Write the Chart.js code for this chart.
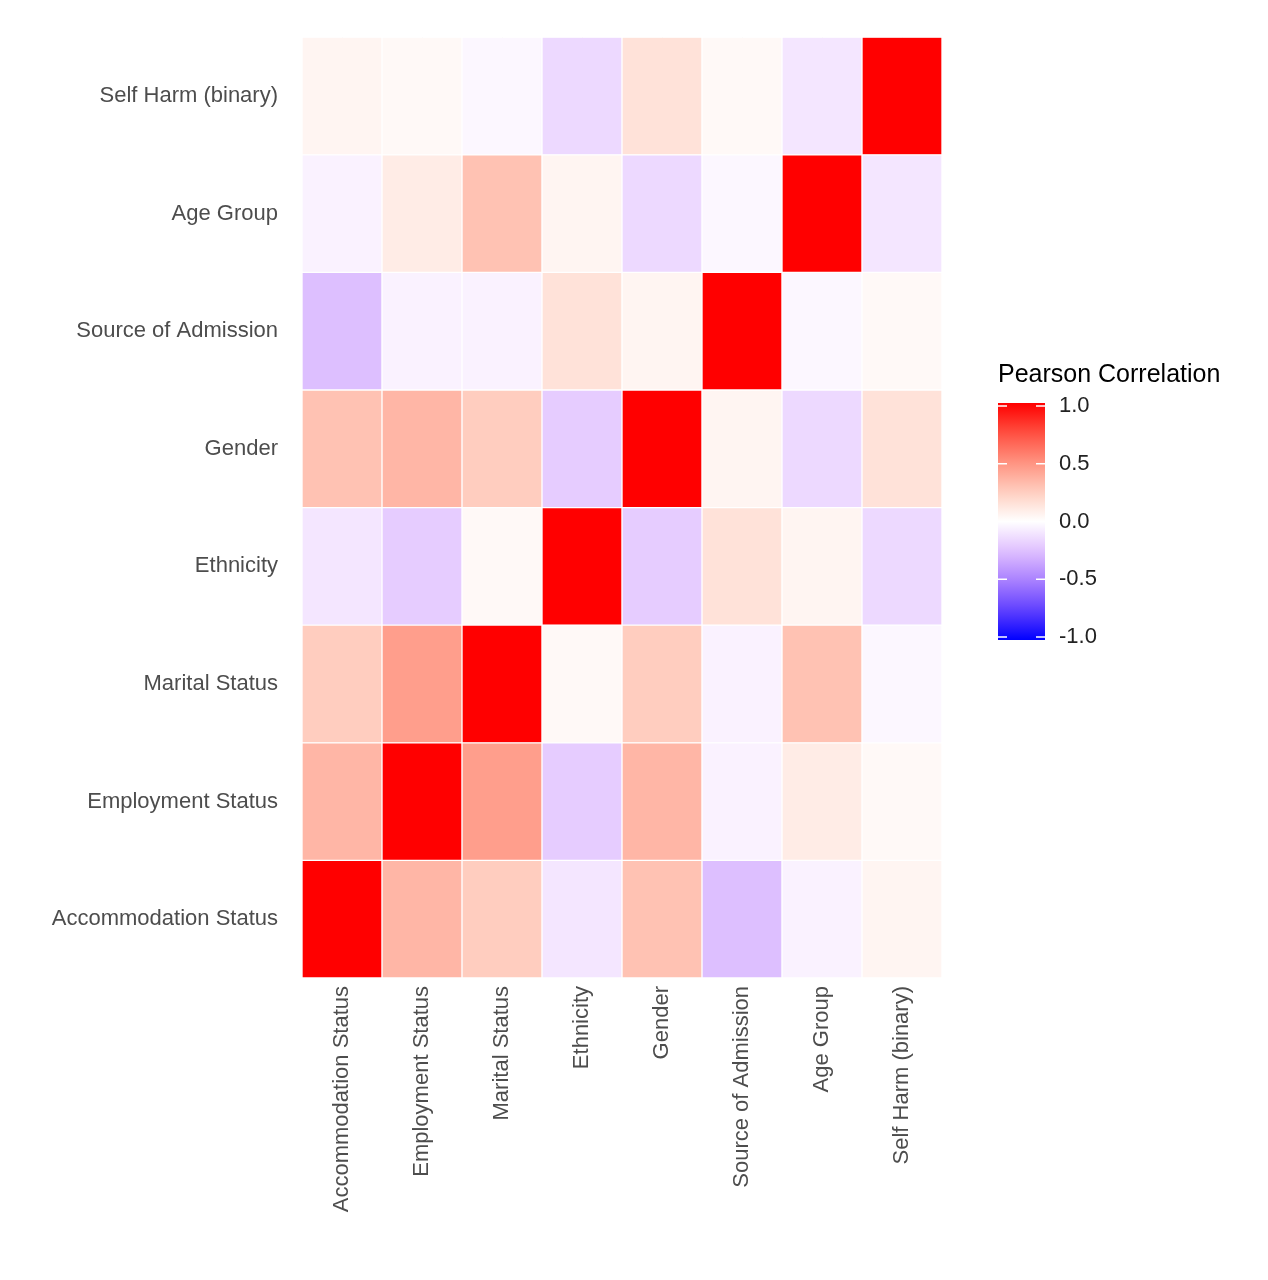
<!DOCTYPE html>
<html>
<head>
<meta charset="utf-8">
<script src="https://cdn.jsdelivr.net/npm/chart.js@4"></script>
<style>body{margin:0;background:#fff}</style>
</head>
<body>
<canvas id="c" width="1268" height="1280"></canvas>
<script>
const vars = ["Accommodation Status","Employment Status","Marital Status","Ethnicity","Gender","Source of Admission","Age Group","Self Harm (binary)"];
// correlation matrix, rows/cols in vars order
const corr = [
  [1.00, 0.35, 0.25,-0.10, 0.30,-0.25,-0.05, 0.05],
  [0.35, 1.00, 0.45,-0.20, 0.35,-0.05, 0.10, 0.03],
  [0.25, 0.45, 1.00, 0.03, 0.25,-0.05, 0.30,-0.03],
  [-0.10,-0.20, 0.03, 1.00,-0.20, 0.15, 0.05,-0.15],
  [0.30, 0.35, 0.25,-0.20, 1.00, 0.05,-0.15, 0.15],
  [-0.25,-0.05,-0.05, 0.15, 0.05, 1.00,-0.03, 0.03],
  [-0.05, 0.10, 0.30, 0.05,-0.15,-0.03, 1.00,-0.10],
  [0.05, 0.03,-0.03,-0.15, 0.15, 0.03,-0.10, 1.00]
];
const legendTicks = [1.0, 0.5, 0.0, -0.5, -1.0];

function colorFor(v){
  let r,g,b;
  if(v>=0){ r=255; g=Math.round(255*(1-v)); b=Math.round(255*(1-v)); g=Math.min(255,g+Math.round(18*v*(1-v)*4)); }
  else { const t=-v; r=Math.round(255*(1-t)); g=Math.round(255*(1-t)); b=255; r=Math.min(255,r+Math.round(40*t*(1-t)*4)); }
  return `rgb(${r},${g},${b})`;
}

// one stacked dataset per y variable (row), each cell height 1
const datasets = vars.map((yv, j) => ({
  label: yv,
  data: vars.map(() => 1),
  backgroundColor: vars.map((xv, i) => colorFor(corr[j][i])),
  borderColor: '#ffffff',
  borderWidth: 1,
  borderSkipped: false,
  barPercentage: 1,
  categoryPercentage: 1
}));

const legendPlugin = {
  id: 'colorbar',
  afterDraw(chart){
    const ctx = chart.ctx;
    const x = 998, w = 47, top = 403, bot = 640;
    ctx.save();
    ctx.fillStyle = '#000';
    ctx.font = '25px "Liberation Sans", Arial, sans-serif';
    ctx.textBaseline = 'alphabetic';
    ctx.fillText('Pearson Correlation', 998, 382);
    const grd = ctx.createLinearGradient(0, top, 0, bot);
    for(let k=0;k<=20;k++){ const v = 1 - k/10; grd.addColorStop(k/20, colorFor(v)); }
    ctx.fillStyle = grd;
    ctx.fillRect(x, top, w, bot-top);
    ctx.font = '22px "Liberation Sans", Arial, sans-serif';
    ctx.textBaseline = 'middle';
    legendTicks.forEach(v => {
      const y = top + (1 - v)/2*(bot-top-6) + 3;
      ctx.strokeStyle = '#fff'; ctx.lineWidth = 1.5;
      ctx.beginPath(); ctx.moveTo(x, y); ctx.lineTo(x+9, y); ctx.moveTo(x+w-9, y); ctx.lineTo(x+w, y); ctx.stroke();
      ctx.fillStyle = '#222';
      ctx.fillText(v.toFixed(1), x+w+14, y);
    });
    ctx.restore();
  }
};

new Chart(document.getElementById('c'), {
  type: 'bar',
  data: { labels: vars, datasets },
  options: {
    responsive: false,
    animation: false,
    layout: { padding: { top: 15, right: 326, left: 0, bottom: 0 } },
    plugins: { legend: { display: false }, tooltip: { enabled: false } },
    scales: {
      x: {
        stacked: true,
        grid: { offset: false, color: '#ebebeb', drawTicks: false },
        border: { display: false },
        ticks: { maxRotation: 90, minRotation: 90, color: '#4d4d4d', padding: 8,
          font: { size: 22, family: '"Liberation Sans", Arial, sans-serif' } },
        afterFit(s){ s.height = 302; }
      },
      y: {
        stacked: true, min: 0, max: 8, display: false
      },
      yl: {
        type: 'category', position: 'left',
        labels: vars.slice().reverse(), offset: true,
        grid: { offset: false, color: '#ebebeb', drawTicks: false },
        border: { display: false },
        ticks: { color: '#4d4d4d', padding: 24,
          font: { size: 22, family: '"Liberation Sans", Arial, sans-serif' } },
        afterFit(s){ s.width = 302; }
      }
    }
  },
  plugins: [legendPlugin]
});
</script>
</body>
</html>
